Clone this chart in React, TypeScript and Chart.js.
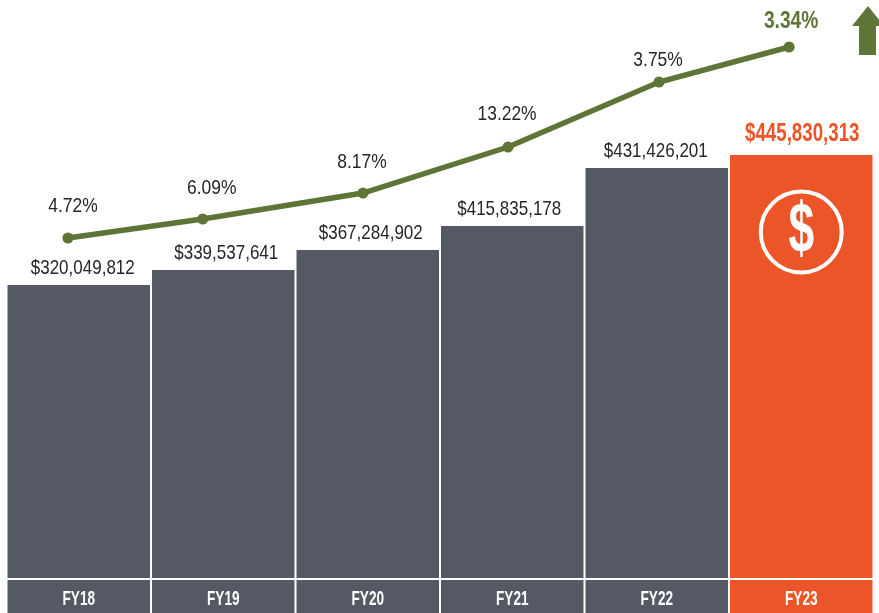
import React, { useEffect, useRef } from "react";
import { Chart, registerables } from "chart.js";

Chart.register(...registerables);

const categories = ["FY18", "FY19", "FY20", "FY21", "FY22", "FY23"];
const amountLabels = ["$320,049,812", "$339,537,641", "$367,284,902", "$415,835,178", "$431,426,201", "$445,830,313"];
const growthLabels = ["4.72%", "6.09%", "8.17%", "13.22%", "3.75%", "3.34%"];
// Drawn heights (the source graphic is not to scale with its labels)
const barHeights = [293, 308, 328, 352, 410, 423];
const linePositions = [-0.075, 0.858, 1.967, 2.971, 4.016, 4.916];
const lineHeights = [340, 359, 385, 431, 496, 531];
const amountShift = [4, 3, 3, -3, -1, 1];
const growthShiftX = [5, 9, -1, -1, -1, 2];
const growthShiftY = [32, 31, 31, 33, 22, 26];

const GREY = "#555963";
const ORANGE = "#EC5528";
const GREEN = "#5F7537";
const INK = "#262626";
const FONT = '"Liberation Sans", sans-serif';

function squeezedText(
  ctx: CanvasRenderingContext2D,
  text: string,
  x: number,
  y: number,
  font: string,
  color: string,
  squeeze: number
) {
  ctx.save();
  ctx.translate(x, y);
  ctx.scale(squeeze, 1);
  ctx.font = font;
  ctx.fillStyle = color;
  ctx.textAlign = "center";
  ctx.textBaseline = "middle";
  ctx.fillText(text, 0, 0);
  ctx.restore();
}

const annotations = {
  id: "annotations",
  afterDatasetsDraw(chart: any) {
    const { ctx, scales } = chart;
    const yS = scales.y;
    const xS = scales.x;
    const x2 = scales.x2;

    categories.forEach((c, i) => {
      const cx = xS.getPixelForValue(i);
      squeezedText(ctx, c, cx, yS.getPixelForValue(-21), `bold 20px ${FONT}`, "#ffffff", 0.68);
      const top = yS.getPixelForValue(barHeights[i]);
      if (i === categories.length - 1) {
        squeezedText(ctx, amountLabels[i], cx + amountShift[i], top - 21, `bold 26px ${FONT}`, ORANGE, 0.72);
      } else {
        squeezedText(ctx, amountLabels[i], cx + amountShift[i], top - 17, `21px ${FONT}`, INK, 0.81);
      }
      const px = x2.getPixelForValue(linePositions[i]) + growthShiftX[i];
      const py = yS.getPixelForValue(lineHeights[i]) - growthShiftY[i];
      if (i === categories.length - 1) {
        squeezedText(ctx, growthLabels[i], px, py, `bold 24px ${FONT}`, GREEN, 0.8);
      } else {
        squeezedText(ctx, growthLabels[i], px, py, `21px ${FONT}`, INK, 0.83);
      }
    });

    // Dollar badge on the last bar
    const bx = xS.getPixelForValue(5);
    const by = yS.getPixelForValue(346);
    ctx.save();
    ctx.beginPath();
    ctx.arc(bx, by, 40.5, 0, Math.PI * 2);
    ctx.lineWidth = 4;
    ctx.strokeStyle = "#ffffff";
    ctx.stroke();
    ctx.restore();
    squeezedText(ctx, "$", bx, by + 1, `bold 70px ${FONT}`, "#ffffff", 0.66);

    // Up arrow in the corner
    const ax = chart.width - 11;
    ctx.save();
    ctx.fillStyle = GREEN;
    ctx.beginPath();
    ctx.moveTo(ax, 6);
    ctx.lineTo(ax + 16, 26);
    ctx.lineTo(ax + 8, 26);
    ctx.lineTo(ax + 8, 55);
    ctx.lineTo(ax - 9, 55);
    ctx.lineTo(ax - 9, 26);
    ctx.lineTo(ax - 16, 26);
    ctx.closePath();
    ctx.fill();
    ctx.restore();
  },
};

export default function App() {
  const ref = useRef<HTMLCanvasElement>(null);

  useEffect(() => {
    document.body.style.margin = "0";
    const barColors = categories.map((_, i) => (i === categories.length - 1 ? ORANGE : GREY));
    const chart = new Chart(ref.current as HTMLCanvasElement, {
      type: "bar",
      data: {
        labels: categories,
        datasets: [
          {
            type: "line",
            data: linePositions.map((x, i) => ({ x, y: lineHeights[i] })),
            xAxisID: "x2",
            borderColor: GREEN,
            backgroundColor: GREEN,
            borderWidth: 5.5,
            pointRadius: 5.5,
            pointBackgroundColor: GREEN,
            pointBorderWidth: 0,
            tension: 0,
            order: 0,
          },
          {
            type: "bar",
            data: barHeights,
            backgroundColor: barColors,
            stack: "main",
            grouped: false,
            barPercentage: 0.986,
            categoryPercentage: 1,
            order: 1,
          },
          {
            type: "bar",
            data: categories.map(() => [-35, -2]),
            backgroundColor: barColors,
            stack: "band",
            grouped: false,
            barPercentage: 0.986,
            categoryPercentage: 1,
            order: 2,
          },
        ] as any,
      },
      options: {
        animation: false,
        responsive: false,
        maintainAspectRatio: false,
        layout: { autoPadding: false, padding: { left: 6.5, right: 5.5, top: 0, bottom: 0 } },
        plugins: { legend: { display: false }, tooltip: { enabled: false } },
        scales: {
          x: { display: false, type: "category", stacked: false },
          x2: { display: false, type: "linear", min: -0.5, max: 5.5, offset: false },
          y: { display: false, type: "linear", min: -35, max: 578, stacked: false },
        },
      },
      plugins: [annotations],
    } as any);
    return () => chart.destroy();
  }, []);

  return <canvas ref={ref} width={879} height={613} style={{ display: "block" }} />;
}
